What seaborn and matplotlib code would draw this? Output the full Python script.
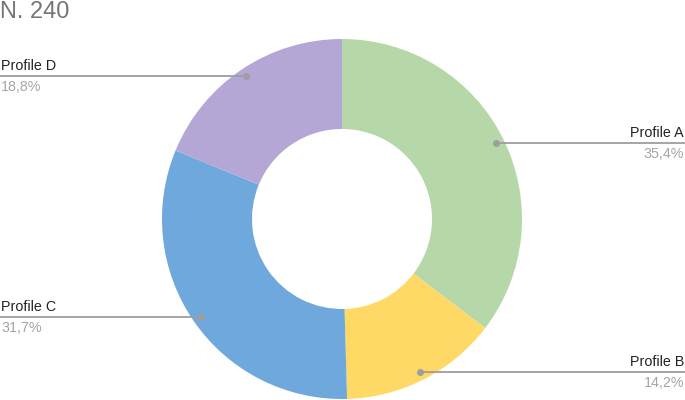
import numpy as np
import matplotlib.pyplot as plt
import seaborn as sns

# data
profiles = ["Profile A", "Profile B", "Profile C", "Profile D"]
shares = [35.4, 14.2, 31.7, 18.8]
colors = ["#b6d7a8", "#ffd966", "#6fa8dc", "#b4a7d6"]
title_text = "N. 240"

sns.set_theme(style="white")
plt.rcParams["font.family"] = ["Liberation Sans", "DejaVu Sans"]

W, H = 685, 400
fig = plt.figure(figsize=(W / 100, H / 100), dpi=100)
ax = fig.add_axes([0, 0, 1, 1])

cx, cy, R = 342, 181, 180
wedges, _ = ax.pie(shares, colors=colors, startangle=90, counterclock=False,
                   radius=R, center=(cx, cy),
                   wedgeprops=dict(width=R * 0.5, linewidth=0))

# pie resets the limits, so set them afterwards (1 unit = 1 pixel)
ax.set_xlim(0, W)
ax.set_ylim(0, H)
ax.set_aspect("equal")
ax.axis("off")

#leader lines with labels
total = sum(shares)
cum = 0
for name, val in zip(profiles, shares):
    mid = (cum + val / 2) / total * 360
    cum += val
    ang = np.deg2rad(90 - mid)
    px = cx + 0.955 * R * np.cos(ang)
    py = cy + 0.955 * R * np.sin(ang)
    right = px > cx
    x_end = W if right else 0
    ax.plot([px, x_end], [py, py], color="#9e9e9e", lw=1.3, solid_capstyle="butt")
    ax.plot(px, py, "o", color="#9e9e9e", ms=4)
    tx = W - 1 if right else 1
    ha = "right" if right else "left"
    ax.text(tx, py + 3, name, ha=ha, va="bottom", fontsize=10.3, color="#222222")
    ax.text(tx, py - 4, f"{val:.1f}%".replace(".", ","), ha=ha, va="top",
            fontsize=10.3, color="#a5a5a5")

fig.text(0, 0.998, title_text, ha="left", va="top", fontsize=17, color="#757575")

plt.savefig("out.png", dpi=100)
